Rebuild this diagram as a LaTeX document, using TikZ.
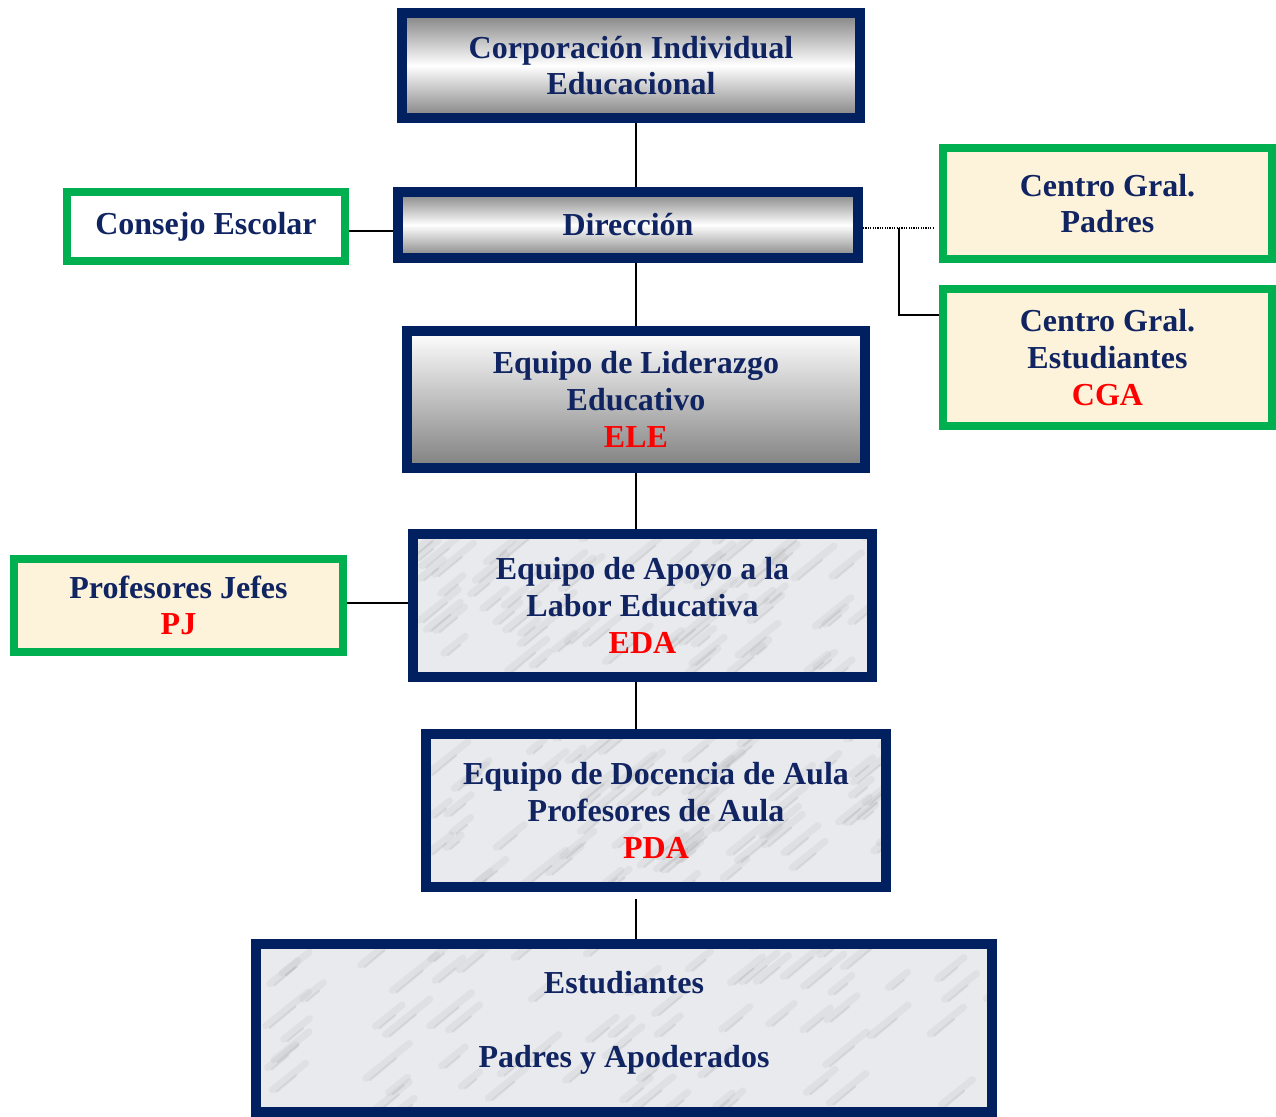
\documentclass[tikz,border=0pt]{standalone}
\usepackage{fontspec}
\setmainfont{Liberation Serif}
\usepackage{xcolor}
\usepackage{tikz}
\usetikzlibrary{calc}

\definecolor{navy}{RGB}{0,32,96}
\definecolor{inkblue}{RGB}{16,36,98}
\definecolor{okgreen}{RGB}{0,176,80}
\definecolor{cream}{RGB}{253,242,218}
\definecolor{marble}{RGB}{233,234,237}
\definecolor{steel}{RGB}{128,128,128}

\pgfmathsetseed{11}

\tikzset{
  label/.style={align=center, inner sep=0pt, text=inkblue,
    font=\fontsize{16}{18.3}\selectfont\bfseries},
  navybox/.style={label, draw=navy, line width=5pt},
  greenbox/.style={label, draw=okgreen, line width=4pt, fill=cream},
  metal/.style={navybox, top color=steel, bottom color=steel, middle color=white},
  fade/.style={navybox, top color=white, bottom color=steel},
  stone/.style={navybox, fill=marble, path picture={
      \path (path picture bounding box.south west) coordinate (sw)
            (path picture bounding box.north east) coordinate (ne);
      \foreach \k in {1,...,70} {
        \pgfmathsetmacro\u{rnd}\pgfmathsetmacro\v{rnd}
        \pgfmathsetmacro\len{15+30*rnd}
        \coordinate (p) at ($(sw)!\u!(sw -| ne)$);
        \draw[black!45, opacity=.10, line width=3.5pt, line cap=round]
          ($(p)!\v!(p |- ne)$) -- ++(\len,-0.8*\len);
        \draw[black!55, opacity=.14, line width=1pt, line cap=round]
          ($(p)!\v!(p |- ne) + (4,2)$) -- ++(0.6*\len,-0.5*\len);
      }}},
  link/.style={line width=1pt},
  code/.style={text=red}
}

\begin{document}
\begin{tikzpicture}[x=0.5pt,y=-0.5pt]

\useasboundingbox (0,0) rectangle (1276,1117);

% ------------------------
% Main column
% ------------------------
\node[metal, minimum width=229pt, minimum height=52.5pt]
  (corp) at (631,65.5) {Corporación Individual\\Educacional};

\node[metal, minimum width=230pt, minimum height=33pt]
  (dir) at (628,225) {Dirección};

\node[fade, minimum width=229pt, minimum height=68.5pt]
  (ele) at (636,399.5) {Equipo de Liderazgo\\Educativo\\\textcolor{red}{ELE}};

\node[stone, minimum width=229.5pt, minimum height=71.5pt]
  (eda) at (642.5,605.5) {Equipo de Apoyo a la\\Labor Educativa\\\textcolor{red}{EDA}};

\node[stone, minimum width=230pt, minimum height=76.5pt]
  (pda) at (656,810.5) {Equipo de Docencia de Aula\\Profesores de Aula\\\textcolor{red}{PDA}};

\node[stone, minimum width=368pt, minimum height=84pt]
  (est) at (624,1028) {Estudiantes\\[18.7pt]Padres y Apoderados\\[-10pt]\mbox{}};

% ------------------------
% Side boxes
% ------------------------
\node[greenbox, fill=white, minimum width=139pt, minimum height=34.5pt]
  (cons) at (206,226.5) {Consejo Escolar};

\node[greenbox, minimum width=164.5pt, minimum height=55.5pt]
  (cgp) at (1107.5,203.5) {Centro Gral.\\Padres};

\node[greenbox, minimum width=164.5pt, minimum height=68.5pt]
  (cge) at (1107.5,357.5) {Centro Gral.\\Estudiantes\\\textcolor{red}{CGA}};

\node[greenbox, minimum width=164.5pt, minimum height=46.5pt]
  (pj) at (178.5,605.5) {Profesores Jefes\\\textcolor{red}{PJ}};

% ------------------------
% Connectors
% ------------------------
\draw[link] (ele.north |- corp.south) -- (ele.north |- dir.north);
\draw[link] (ele.north |- dir.south) -- (ele.north);
\draw[link] (ele.south) -- (ele.south |- eda.north);
\draw[link] (ele.south |- eda.south) -- (ele.south |- pda.north);
\draw[link] ([yshift=-3.5pt]ele.south |- pda.south) -- (ele.south |- est.north);

\draw[link] ([yshift=-2.5pt]cons.east) -- ([yshift=-2.5pt]cons.east -| dir.west);
\draw[link] ([yshift=1pt]pj.east) -- ([yshift=1pt]pj.east -| eda.west);

% Parents and students councils
\coordinate (fork) at ($(dir.east) + (36,3)$);
\coordinate (tip) at ($(dir.east -| cgp.west) + (-6,3)$);
\draw[line width=1pt, dash pattern=on 0.6pt off 0.6pt] ($(dir.east) + (0,3)$) -- (tip);
\draw[link] (fork) |- ([yshift=21pt]cge.west);

\end{tikzpicture}
\end{document}
